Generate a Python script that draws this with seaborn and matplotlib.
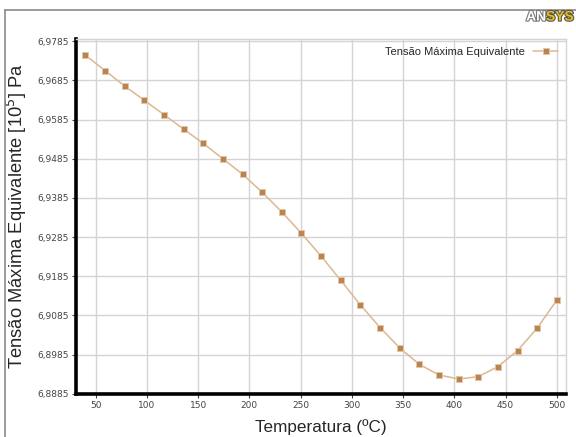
import pandas as pd
import seaborn as sns
import matplotlib.pyplot as plt
import matplotlib.patheffects as pe
from matplotlib.lines import Line2D

temperatura = [40, 59.2, 78.3, 97.5, 116.7, 135.8, 155, 174.2, 193.3, 212.5,
               231.7, 250.8, 270, 289.2, 308.3, 327.5, 346.7, 365.8, 385, 404.2,
               423.3, 442.5, 461.7, 480.8, 500]
tensao = [6.97491, 6.97099, 6.96707, 6.96340, 6.95973, 6.95606, 6.95240, 6.94847,
          6.94455, 6.93994, 6.93491, 6.92945, 6.92365, 6.91742, 6.91120, 6.90540,
          6.90019, 6.89602, 6.89329, 6.89226, 6.89286, 6.89542, 6.89951, 6.90523,
          6.91239]
y_ticks = [6.8885, 6.8985, 6.9085, 6.9185, 6.9285, 6.9385, 6.9485, 6.9585, 6.9685, 6.9785]
x_ticks = [50, 100, 150, 200, 250, 300, 350, 400, 450, 500]
serie = "Tensão Máxima Equivalente"

df = pd.DataFrame({"Temperatura": temperatura, "Tensao": tensao, "serie": serie})

sns.set_style("whitegrid")
plt.rcParams["font.family"] = ["DejaVu Sans"]

fig = plt.figure(figsize=(5.76, 4.37), dpi=100)
ax = fig.add_axes([0.132, 0.099, 0.851, 0.812])

sns.lineplot(data=df, x="Temperatura", y="Tensao", hue="serie",
             palette=["#dbb88f"], marker="s", markersize=4,
             markerfacecolor="#b98452", markeredgecolor="#e3c6a4",
             markeredgewidth=0.7, linewidth=1.1, ax=ax)

ax.set_xlim(30.8, 509.2)
ax.set_ylim(6.8885, 6.9791)
ax.set_xticks(x_ticks)
ax.set_yticks(y_ticks)
ax.set_yticklabels([f"{v:.4f}".replace(".", ",") for v in y_ticks])
ax.tick_params(axis="both", labelsize=6.5, labelcolor="#444444", colors="#444444",
               length=3, width=0.8, pad=2, left=True, bottom=True)
ax.grid(True, color="#d4d4d4", linewidth=1)

for s in ["left", "bottom"]:
    ax.spines[s].set_color("black")
    ax.spines[s].set_linewidth(2.6)
for s in ["top", "right"]:
    ax.spines[s].set_color("#d4d4d4")
    ax.spines[s].set_linewidth(1)

ax.set_xlabel("Temperatura (ºC)", fontsize=12.3, family="Liberation Sans", labelpad=7)
ax.set_ylabel("Tensão Máxima Equivalente [10$^5$] Pa", fontsize=13.2,
              family="Liberation Sans", labelpad=6)

leg = ax.legend(loc="upper right", frameon=False, markerfirst=False,
                handlelength=2.2, borderaxespad=0.35,
                prop={"family": "Liberation Sans", "size": 8})

# moldura cinza da janela
fig.add_artist(Line2D([5 / 576, 1], [1 - 10 / 437, 1 - 10 / 437], color="#8a8a8a", lw=1.2))
fig.add_artist(Line2D([5 / 576, 5 / 576], [0, 1 - 10 / 437], color="#8a8a8a", lw=1.2))

# logo ANSYS
sys_txt = fig.text(0.996, 0.962, "SYS", ha="right", va="center", fontsize=10,
                   fontweight="bold", family="Liberation Sans", color="#e8c21a",
                   path_effects=[pe.withStroke(linewidth=1.6, foreground="#555555")])
renderer = fig.canvas.get_renderer()
bb = sys_txt.get_window_extent(renderer)
x_left = bb.x0 / fig.bbox.width
fig.text(x_left, 0.962, "AN", ha="right", va="center", fontsize=10, fontweight="bold",
         family="Liberation Sans", color="white",
         path_effects=[pe.withStroke(linewidth=1.6, foreground="#777777")])

fig.savefig("out.png", dpi=100)
